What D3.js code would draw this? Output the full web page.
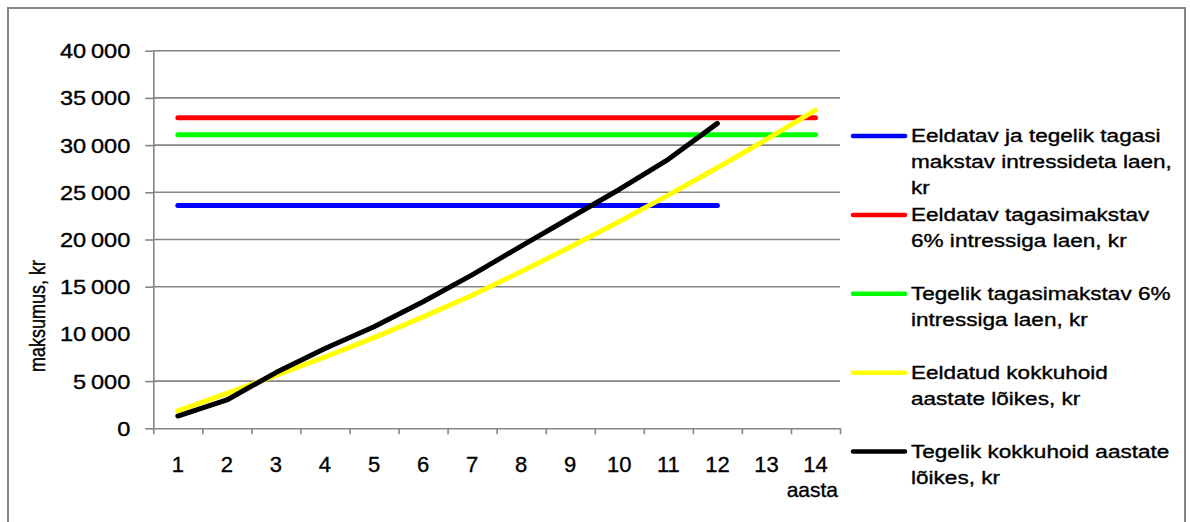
<!DOCTYPE html>
<html>
<head>
<meta charset="utf-8">
<script src="https://cdn.jsdelivr.net/npm/d3@7"></script>
<style>
  html, body { margin: 0; padding: 0; background: #fff; }
  svg { display: block; font-family: "Liberation Sans", Arial, sans-serif; }
</style>
</head>
<body>
<svg id="chart" width="1190" height="522"></svg>
<script>
// Years on the x axis
const years = [1, 2, 3, 4, 5, 6, 7, 8, 9, 10, 11, 12, 13, 14];

// Loan repayment levels (kr)
const loanNoInterest = 23600;      // years 1–12
const loanExpected6 = 32900;       // years 1–14
const loanActual6 = 31100;         // years 1–14

// Cumulative savings (kr)
const savingsExpected = [1850, 3700, 5600, 7550, 9600, 11800, 14100, 16600, 19200, 21900, 24700, 27600, 30600, 33700];
const savingsActual = [1300, 3000, 5900, 8450, 10750, 13400, 16250, 19300, 22300, 25300, 28500, 32300];

const yTicks = [0, 5000, 10000, 15000, 20000, 25000, 30000, 35000, 40000];

const seriesNames = [
  ["Eeldatav ja tegelik tagasi", "makstav intressideta laen,", "kr"],
  ["Eeldatav tagasimakstav", "6% intressiga laen, kr"],
  ["Tegelik tagasimakstav 6%", "intressiga laen, kr"],
  ["Eeldatud kokkuhoid", "aastate lõikes, kr"],
  ["Tegelik kokkuhoid aastate", "lõikes, kr"]
];
const seriesColors = ["#0000ff", "#ff0000", "#00ff00", "#ffff00", "#000000"];

const series = [
  years.slice(0, 12).map(y => ({ x: y, v: loanNoInterest })),
  years.map(y => ({ x: y, v: loanExpected6 })),
  years.map(y => ({ x: y, v: loanActual6 })),
  years.map((y, i) => ({ x: y, v: savingsExpected[i] })),
  years.slice(0, savingsActual.length).map((y, i) => ({ x: y, v: savingsActual[i] }))
];

const svg = d3.select("#chart");
const gray = "#858585";
const textStroke = 0.35;

// Outer frame
svg.append("rect")
  .attr("x", 8).attr("y", 8).attr("width", 1177).attr("height", 530)
  .attr("fill", "none").attr("stroke", gray).attr("stroke-width", 2);

const plot = { left: 153.3, right: 840, top: 50.7, bottom: 428.3 };

const x = d3.scaleBand().domain(years).range([plot.left, plot.right]).padding(0);
const xEdge = d3.scaleLinear().domain([0, years.length]).range([plot.left, plot.right]);
const y = d3.scaleLinear().domain([0, 40000]).range([plot.bottom, plot.top]);

const locale = d3.formatLocale({ decimal: ",", thousands: "\u2009", grouping: [3], currency: ["", ""] });
const fmt = locale.format(",d");

// Horizontal gridlines
svg.append("g")
  .selectAll("line")
  .data(yTicks.filter(t => t > 0 && t !== 10000))
  .join("line")
  .attr("x1", plot.left).attr("x2", plot.right)
  .attr("y1", d => y(d)).attr("y2", d => y(d))
  .attr("stroke", gray).attr("stroke-width", 1.6);

// Y axis
const sxY = 1.18;
const yAxis = svg.append("g")
  .attr("transform", `translate(${plot.left},0)`)
  .call(d3.axisLeft(y).tickValues(yTicks).tickFormat(fmt).tickSize(8).tickSizeOuter(0));
yAxis.select(".domain").attr("stroke", gray).attr("stroke-width", 1.6);
yAxis.selectAll(".tick line").attr("stroke", gray).attr("stroke-width", 1.6)
  .attr("display", d => d === 10000 ? "none" : null);
yAxis.selectAll(".tick text")
  .attr("fill", "#000").attr("stroke", "#000").attr("stroke-width", textStroke)
  .attr("font-size", 20)
  .attr("x", -23 / sxY).attr("dy", "0.35em")
  .attr("transform", `scale(${sxY},1)`)
  .attr("font-family", "Liberation Sans, Arial, sans-serif");

// X axis: edge tick marks
const xAxisTicks = svg.append("g")
  .attr("transform", `translate(0,${plot.bottom})`)
  .call(d3.axisBottom(xEdge).tickValues(d3.range(0, years.length + 1)).tickFormat("").tickSize(6).tickSizeOuter(0));
xAxisTicks.select(".domain").attr("stroke", gray).attr("stroke-width", 1.6);
xAxisTicks.selectAll(".tick line").attr("stroke", gray).attr("stroke-width", 1.6);

// X axis: category labels
const xAxisLabels = svg.append("g")
  .attr("transform", `translate(0,${plot.bottom})`)
  .call(d3.axisBottom(x).tickSize(0));
xAxisLabels.select(".domain").remove();
xAxisLabels.selectAll(".tick text")
  .attr("fill", "#000").attr("stroke", "#000").attr("stroke-width", textStroke)
  .attr("font-size", 22)
  .attr("y", 36).attr("dy", "0.35em")
  .attr("font-family", "Liberation Sans, Arial, sans-serif");

// Axis titles
svg.append("text")
  .attr("x", 838).attr("y", 490).attr("dy", "0.35em")
  .attr("text-anchor", "end").attr("font-size", 21)
  .attr("stroke", "#000").attr("stroke-width", textStroke)
  .text("aasta");

svg.append("text")
  .attr("transform", "translate(37,316) rotate(-90) scale(1,1.2)")
  .attr("dy", "0.35em")
  .attr("text-anchor", "middle").attr("font-size", 18)
  .attr("stroke", "#000").attr("stroke-width", textStroke)
  .text("maksumus, kr");

// Series lines
const line = d3.line().x(d => x(d.x) + x.bandwidth() / 2).y(d => y(d.v));
svg.append("g")
  .selectAll("path")
  .data(series)
  .join("path")
  .attr("d", line)
  .attr("fill", "none")
  .attr("stroke", (d, i) => seriesColors[i])
  .attr("stroke-width", 5)
  .attr("stroke-linecap", "round")
  .attr("stroke-linejoin", "round");

// Legend
const sxL = 1.22;
const legend = svg.append("g");
const legendRowY = i => 136 + i * 78.9;
seriesNames.forEach((lines, i) => {
  const g = legend.append("g").attr("transform", `translate(0,${legendRowY(i)})`);
  g.append("line")
    .attr("x1", 853).attr("x2", 905)
    .attr("y1", 0).attr("y2", 0)
    .attr("stroke", seriesColors[i]).attr("stroke-width", 4.5)
    .attr("stroke-linecap", "round");
  const t = g.append("text")
    .attr("transform", `translate(911,0) scale(${sxL},1)`)
    .attr("font-size", 18.5).attr("fill", "#000")
    .attr("stroke", "#000").attr("stroke-width", textStroke);
  lines.forEach((s, k) => {
    t.append("tspan").attr("x", 0).attr("y", k * 25.6).attr("dy", "0.35em").text(s);
  });
});
</script>
</body>
</html>
